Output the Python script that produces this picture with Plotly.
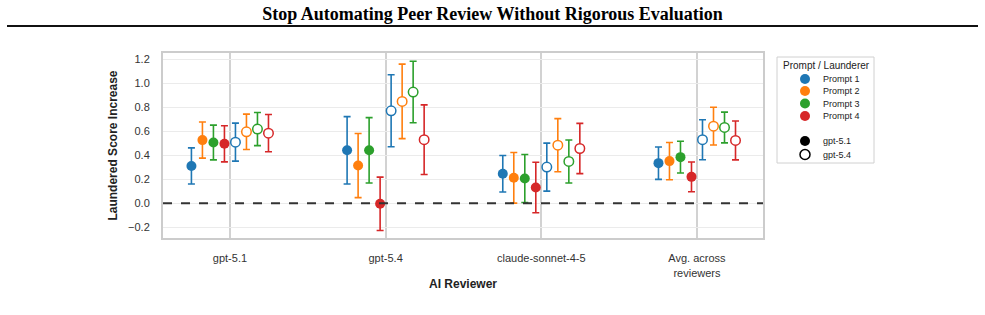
import plotly.graph_objects as go

# ---------------- data ----------------
reviewers = ["gpt-5.1", "gpt-5.4", "claude-sonnet-4-5", "Avg. across<br>reviewers"]
prompts = ["Prompt 1", "Prompt 2", "Prompt 3", "Prompt 4"]
launderers = ["gpt-5.1", "gpt-5.4"]
colors = ["#1f77b4", "#ff7f0e", "#2ca02c", "#d62728"]

# launderer gpt-5.1 (filled markers): mean and 95% CI half-width per prompt, per reviewer
mean_gpt51 = {
    "Prompt 1": [0.31, 0.44, 0.245, 0.333],
    "Prompt 2": [0.525, 0.313, 0.211, 0.35],
    "Prompt 3": [0.505, 0.44, 0.205, 0.383],
    "Prompt 4": [0.494, -0.005, 0.13, 0.219],
}
err_gpt51 = {
    "Prompt 1": [0.15, 0.28, 0.152, 0.135],
    "Prompt 2": [0.15, 0.267, 0.211, 0.155],
    "Prompt 3": [0.145, 0.272, 0.20, 0.132],
    "Prompt 4": [0.15, 0.222, 0.21, 0.124],
}
# launderer gpt-5.4 (open markers)
mean_gpt54 = {
    "Prompt 1": [0.508, 0.769, 0.30, 0.528],
    "Prompt 2": [0.594, 0.847, 0.483, 0.641],
    "Prompt 3": [0.617, 0.925, 0.347, 0.63],
    "Prompt 4": [0.583, 0.528, 0.455, 0.522],
}
err_gpt54 = {
    "Prompt 1": [0.158, 0.30, 0.20, 0.166],
    "Prompt 2": [0.147, 0.31, 0.221, 0.157],
    "Prompt 3": [0.138, 0.256, 0.179, 0.128],
    "Prompt 4": [0.155, 0.29, 0.209, 0.162],
}
y_ticks = [-0.2, 0.0, 0.2, 0.4, 0.6, 0.8, 1.0, 1.2]

# ---------------- layout geometry ----------------
W, H = 985, 315
ML, MR, MT, MB = 163, 222, 53, 77
PW, PH = W - ML - MR, H - MT - MB
STEP = 0.0707  # dodge step in category units

def px_x(p):
    return (p - ML) / PW

def px_y(p):
    return (H - MB - p) / PH

fig = go.Figure()

means = [mean_gpt51, mean_gpt54]
errs = [err_gpt51, err_gpt54]
for li, lname in enumerate(launderers):
    for pi, pname in enumerate(prompts):
        k = li * 4 + pi
        off = (k - 3.5) * STEP
        xs = [i + off for i in range(len(reviewers))]
        c = colors[pi]
        fig.add_trace(go.Scatter(
            x=xs, y=means[li][pname], mode="markers",
            name=f"{pname} / {lname}", showlegend=False,
            error_y=dict(type="data", array=errs[li][pname], visible=True,
                         color=c, thickness=1.6, width=3.5),
            marker=dict(symbol="circle", size=10 if li == 0 else 9.5,
                        color=c if li == 0 else "white",
                        line=dict(color=c, width=0 if li == 0 else 1.5)),
        ))

shapes = []
# dashed zero line
shapes.append(dict(type="line", xref="paper", yref="y", x0=0, x1=1, y0=0, y1=0,
                   line=dict(color="#333333", width=2, dash="dash"), layer="above"))
# rule under title
shapes.append(dict(type="line", xref="paper", yref="paper",
                   x0=px_x(7), x1=px_x(978), y0=px_y(26), y1=px_y(26),
                   line=dict(color="#111111", width=2.2)))
# legend box
shapes.append(dict(type="rect", xref="paper", yref="paper",
                   x0=px_x(777), x1=px_x(874), y0=px_y(57), y1=px_y(163),
                   line=dict(color="#d0d0d0", width=1), fillcolor="white"))

annotations = []
annotations.append(dict(text="Prompt / Launderer", xref="paper", yref="paper",
                        x=px_x(826), y=px_y(65), showarrow=False,
                        font=dict(size=10, color="#222222", family="Liberation Sans, Arial"),
                        xanchor="center", yanchor="middle"))
leg_labels = prompts + launderers
leg_y = [79, 91, 103.5, 116, 141, 154.5]
for j, (lab, yy) in enumerate(zip(leg_labels, leg_y)):
    if j < 4:
        fill, lc, lw = colors[j], colors[j], 0
    elif j == 4:
        fill, lc, lw = "black", "black", 0
    else:
        fill, lc, lw = "white", "black", 1.5
    shapes.append(dict(type="circle", xref="paper", yref="paper",
                       xsizemode="pixel", ysizemode="pixel",
                       xanchor=px_x(805), yanchor=px_y(yy),
                       x0=-5, x1=5, y0=-5, y1=5,
                       fillcolor=fill, line=dict(color=lc, width=lw)))
    annotations.append(dict(text=lab, xref="paper", yref="paper",
                            x=px_x(821), y=px_y(yy), showarrow=False,
                            xanchor="left", yanchor="middle",
                            font=dict(size=9, color="#222222", family="Liberation Sans, Arial")))

fig.update_layout(
    width=W, height=H,
    margin=dict(l=ML, r=MR, t=MT, b=MB, autoexpand=False),
    paper_bgcolor="white", plot_bgcolor="white",
    title=dict(text="<b>Stop Automating Peer Review Without Rigorous Evaluation</b>",
               x=0.5, xref="container", xanchor="center",
               y=1 - 14 / H, yref="container", yanchor="middle",
               font=dict(family="Liberation Serif, Times New Roman", size=18, color="black")),
    showlegend=False,
    shapes=shapes, annotations=annotations,
    font=dict(family="Liberation Sans, Arial", color="#333333"),
)
fig.update_xaxes(
    range=[-0.43, 3.424], tickmode="array",
    tickvals=list(range(len(reviewers))), ticktext=reviewers,
    showgrid=True, gridcolor="#d2d2d2", gridwidth=1.5,
    showline=True, mirror=True, linecolor="#cccccc", linewidth=2,
    ticks="outside", ticklen=9, tickcolor="rgba(0,0,0,0)",
    tickfont=dict(size=11, color="#333333"), zeroline=False,
    title=dict(text="<b>AI Reviewer</b>", font=dict(size=12, color="#222222"), standoff=2),
)
fig.update_yaxes(
    range=[-0.29, 1.25], tickmode="array", tickvals=y_ticks,
    ticktext=[f"{v:.1f}".replace("-", "\u2212") for v in y_ticks],
    showgrid=True, gridcolor="#ebebeb", gridwidth=1.2,
    showline=True, mirror=True, linecolor="#cccccc", linewidth=2,
    ticks="outside", ticklen=9, tickcolor="rgba(0,0,0,0)",
    tickfont=dict(size=11, color="#333333"), zeroline=False,
    title=dict(text="<b>Laundered Score Increase</b>", font=dict(size=12, color="#222222"), standoff=8),
)

fig.write_html("out.html")
